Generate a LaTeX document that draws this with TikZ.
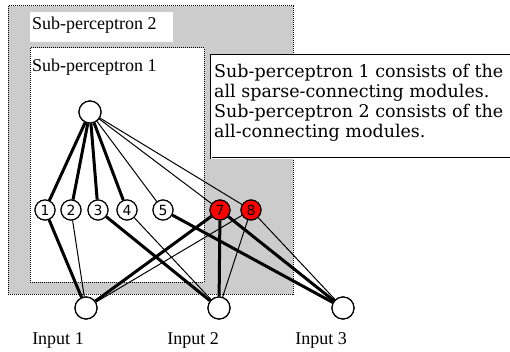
\documentclass[tikz,border=0pt]{standalone}
\usepackage{fontspec}
\setmainfont{Liberation Serif}
\newfontfamily\notefont{DejaVu Serif}
\newfontfamily\digitfont{DejaVu Sans}
\newcommand\notetext[1]{{\notefont\fontsize{17.5}{20}\selectfont #1}}
\begin{document}
\begin{tikzpicture}[x=1pt,y=-1pt,
  unit/.style={circle,draw,line width=1.2pt,fill=white,minimum size=22pt,inner sep=0pt},
  hid/.style={circle,draw,line width=1.1pt,fill=white,minimum size=20pt,inner sep=0pt,font=\digitfont\fontsize{14}{14}\selectfont},
  redhid/.style={hid,fill=red},
  strong/.style={line width=3pt},
  weak/.style={line width=1pt},
  lbl/.style={font=\fontsize{18}{20}\selectfont,inner sep=0pt,anchor=west},
  notebox/.style={anchor=north west,inner sep=0pt},
  area/.style={densely dotted,line width=1pt}]
\useasboundingbox (0,0) rectangle (510,352);
% sub-perceptron frames
\fill[gray!40] (8,6) rectangle (293,294);
\draw[area] (8,6) rectangle (293,294);
\fill[white] (30,12) rectangle (173,42);
\fill[white] (30,48) rectangle (204,282);
\draw[area] (30,48) rectangle (204,282);
\node[lbl] (sp2) at (32,25) {Sub-perceptron 2};
\node[lbl] (sp1) at (32,67) {Sub-perceptron 1};
% explanatory note
\begin{scope}
\clip (0,0) rectangle (510,352);
\draw[fill=white,line width=0.7pt,double,double distance=0.9pt] (211,55) rectangle (520,158);
\end{scope}
\node[notebox] (n1) at (214,64) {\notetext{Sub-perceptron 1 consists of the}};
\node[notebox] (n2) at (214,84) {\notetext{all sparse-connecting modules.}};
\node[notebox] (n3) at (214,104) {\notetext{Sub-perceptron 2 consists of the}};
\node[notebox] (n4) at (214,124) {\notetext{all-connecting modules.}};
% units
\node[unit] (out) at (90,112) {};
\node[hid] (h1) at (45,210) {1};
\node[hid] (h2) at (71,210) {2};
\node[hid] (h3) at (98,210) {3};
\node[hid] (h4) at (127,210) {4};
\node[hid] (h5) at (163,210) {5};
\node[redhid] (h7) at (220,210) {7};
\node[redhid] (h8) at (251,210) {8};
\node[unit] (i1) at (86,308) {};
\node[unit] (i2) at (219,308) {};
\node[unit] (i3) at (343,308) {};
\node[lbl,anchor=center] (t1) at (58,340) {Input 1};
\node[lbl,anchor=center] (t2) at (193,340) {Input 2};
\node[lbl,anchor=center] (t3) at (321,340) {Input 3};
% connections
\draw[strong] (out) -- (h1);
\draw[strong] (out) -- (h2);
\draw[strong] (out) -- (h3);
\draw[strong] (out) -- (h4);
\draw[weak] (out) -- (h5);
\draw[weak] (out) -- (h7);
\draw[weak] (out) -- (h8);
\draw[strong] (h1) -- (i1);
\draw[weak] (h2) -- (i1);
\draw[strong] (h3) -- (i2);
\draw[weak] (h4) -- (i2);
\draw[strong] (h5) -- (i3);
\draw[strong] (h7) -- (i1);
\draw[strong] (h7) -- (i2);
\draw[strong] (h7) -- (i3);
\draw[weak] (h8) -- (i1);
\draw[weak] (h8) -- (i2);
\draw[weak] (h8) -- (i3);
% redraw units above the connections
\foreach \n in {out,i1,i2,i3}{\draw[line width=1.2pt,fill=white] (\n) circle (11pt);}
\foreach \n/\t in {h1/1,h2/2,h3/3,h4/4,h5/5}{\node[hid] at (\n) {\t};}
\foreach \n/\t in {h7/7,h8/8}{\node[redhid] at (\n) {\t};}
\end{tikzpicture}
\end{document}
